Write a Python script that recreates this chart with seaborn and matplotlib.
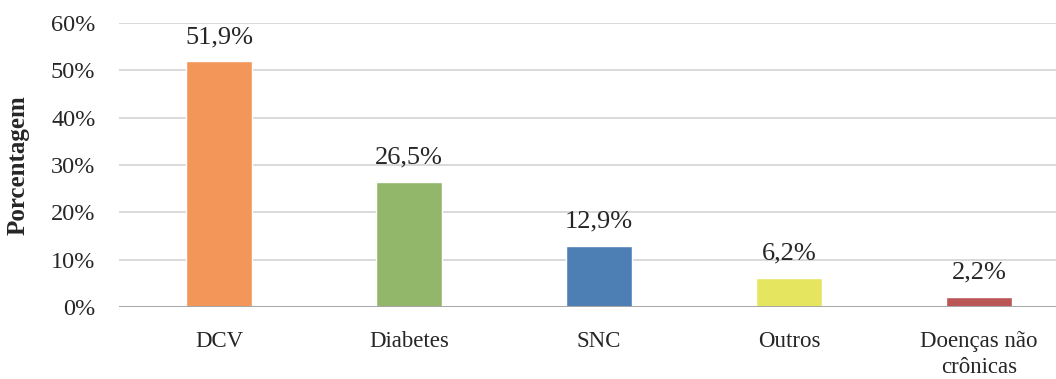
import matplotlib
matplotlib.use("Agg")
import matplotlib.pyplot as plt
import seaborn as sns
import pandas as pd
from matplotlib.ticker import FuncFormatter

categories = ["DCV", "Diabetes", "SNC", "Outros", "Doenças não\ncrônicas"]
percentages = [51.9, 26.5, 12.9, 6.2, 2.2]
colors = ["#F2965A", "#92B76B", "#4E7FB4", "#E5E55F", "#BA5756"]
y_ticks = [0, 10, 20, 30, 40, 50, 60]
y_label = "Porcentagem"

sns.set_theme(style="white")
plt.rcParams["font.family"] = ["Liberation Serif", "DejaVu Serif"]

df = pd.DataFrame({"categoria": categories, "pct": percentages})

W, H = 1056, 379
fig = plt.figure(figsize=(W / 100, H / 100), dpi=100)
ax = fig.add_axes([119 / W, 72 / H, (W - 119) / W, 284 / H])

sns.barplot(data=df, x="categoria", y="pct", hue="categoria",
            palette=colors, width=0.347, legend=False, ax=ax,
            saturation=1, zorder=3)

ax.set_xlim(-0.526, 4.405)
ax.set_ylim(0, 60)
ax.set_yticks(y_ticks)
ax.yaxis.set_major_formatter(FuncFormatter(lambda v, _: f"{v:.0f}%"))

# light horizontal gridlines, darker baseline
for t in y_ticks[1:]:
    ax.axhline(t, color="#D9D9D9", lw=1.4, zorder=1)
ax.axhline(0, color="#A6A6A6", lw=1.4, zorder=4)

for s in ax.spines.values():
    s.set_visible(False)

ax.tick_params(axis="y", length=0, pad=17, labelsize=17.5, labelcolor="#262626")
ax.tick_params(axis="x", length=0, pad=17.5, labelsize=16.5, labelcolor="#262626")
for lbl in ax.get_xticklabels():
    lbl.set_linespacing(1.32)

ax.set_xlabel("")
ax.set_ylabel(y_label, fontsize=18, fontweight="bold", color="#262626")
ax.yaxis.set_label_coords(-0.095, 0.5)

for i, v in enumerate(percentages):
    txt = f"{v:.1f}".replace(".", ",") + "%"
    ax.annotate(txt, (i, v), xytext=(0, 13), textcoords="offset points",
                ha="center", va="baseline", fontsize=19, color="#262626")

fig.savefig("out.png", dpi=100)
